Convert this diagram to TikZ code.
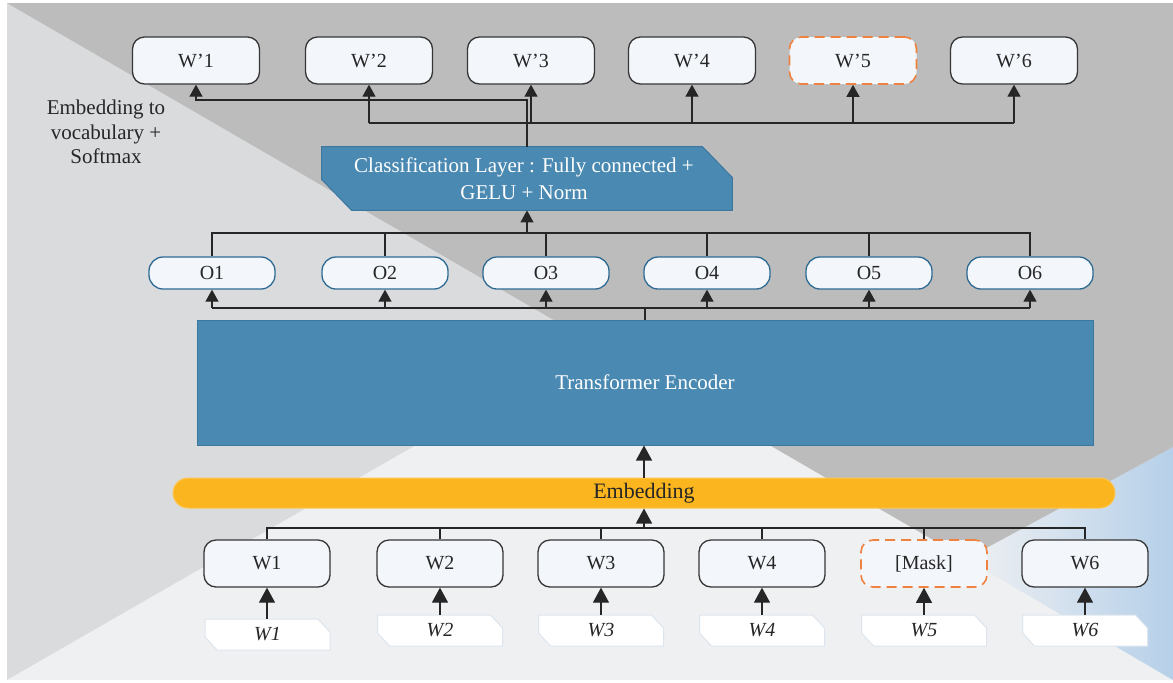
\documentclass[tikz,border=0pt]{standalone}
\usepackage{xcolor}
\usepackage{fontspec}
\setmainfont{Liberation Serif}
\usepackage{tikz}
\usetikzlibrary{positioning, arrows.meta, calc}
\definecolor{framegray}{HTML}{DADBDD}
\definecolor{bandgray}{HTML}{BBBCBB}
\definecolor{palegray}{HTML}{EFF0F2}
\definecolor{skyblue}{HTML}{B6D0E9}
\definecolor{boxfill}{HTML}{F3F6FA}
\definecolor{boxline}{HTML}{363636}
\definecolor{encblue}{HTML}{4A89B1}
\definecolor{encline}{HTML}{3C77A0}
\definecolor{oline}{HTML}{2E6B94}
\definecolor{embyellow}{HTML}{FBB51E}
\definecolor{maskorange}{HTML}{EF8240}
\definecolor{tagline}{HTML}{DCE5EE}
\definecolor{inktext}{HTML}{262626}

\tikzset{
    token/.style={draw=boxline, fill=boxfill, line width=0.65pt, rounded corners=6pt,
        minimum width=63.5pt, minimum height=23.5pt, inner sep=0pt, text=inktext,
        font=\fontsize{10}{12}\selectfont},
    masked/.style={token, draw=maskorange, line width=0.8pt, dash pattern=on 5pt off 3pt},
    outbox/.style={token, draw=oline, minimum width=63pt, minimum height=16pt, rounded corners=7pt},
    tagtext/.style={inner sep=0pt, minimum width=62.5pt, minimum height=15.5pt, text=inktext,
        font=\fontsize{10}{12}\selectfont\itshape},
    conn/.style={draw=inktext, line width=0.65pt},
    flow/.style={conn, -{Triangle[width=6.5pt,length=6pt]}},
    bigflow/.style={conn, -{Triangle[width=8pt,length=7.5pt]}},
}

\begin{document}
\begin{tikzpicture}[x=0.5pt, y=-0.5pt]
    \useasboundingbox (0,0) rectangle (1173,682);
    \fill[white] (0,0) rectangle (1173,682);
    \fill[framegray] (7,3) rectangle (1173,680);
    \fill[palegray] (7,680) -- (700,282) -- (1173,282) -- (1173,680) -- cycle;
    \shade[left color=palegray, right color=skyblue] (1173,447) -- (966,559) -- (1173,680) -- cycle;
    \fill[bandgray] (7,3) -- (1173,3) -- (1173,447) -- (966,559) -- cycle;

    \node[align=center, text=inktext, font=\fontsize{10.5}{12.3}\selectfont] (note) at (106,132)
        {Embedding to\\vocabulary +\\Softmax};

    \foreach \x/\s [count=\i] in {196/token, 369/token, 531/token, 692/token, 853/masked, 1014/token}
        \node[\s] (wp\i) at (\x,60.5) {W’\i};
    \coordinate (topbus) at (0,100);
    \coordinate (midbus) at (0,123);

    \node[minimum width=205pt, minimum height=31.5pt, inner sep=0pt] (cls) at (527,178.5) {};
    \fill[encblue, draw=encline, line width=0.5pt] (cls.north west) -- ([xshift=-15pt]cls.north east)
        -- ([yshift=-15.5pt]cls.north east) -- (cls.south east) -- ([xshift=15pt]cls.south west)
        -- ([yshift=15.5pt]cls.south west) -- cycle;
    \node[text=white, align=center, font=\fontsize{10.5}{13.5}\selectfont] at ([xshift=-1.5pt]cls.center)
        {Classification Layer : Fully connected +\\GELU + Norm};

    \foreach \x [count=\i] in {212,385,546,707,869,1030}
        \node[outbox] (o\i) at (\x,273) {O\i};
    \coordinate (obustop) at (0,233);
    \coordinate (obusbot) at (0,308);

    \node[fill=encblue, draw=encline, line width=0.5pt, minimum width=448pt, minimum height=62.5pt,
          text=white, font=\fontsize{10.5}{12}\selectfont] (enc) at (645,382.5) {Transformer Encoder};
    \node[fill=embyellow, draw=embyellow!75!white, line width=0.5pt, rounded corners=7.5pt,
          minimum width=471pt, minimum height=15pt, inner sep=0pt, text=inktext,
          font=\fontsize{11}{12}\selectfont] (emb) at (644,493) {Embedding};

    \foreach \x/\s/\t [count=\i] in {267/token/W1, 440/token/W2, 601/token/W3, 762/token/W4, 924/masked/{[Mask]}, 1085/token/W6}
        \node[\s, minimum width=63pt] (w\i) at (\x,563.5) {\t};
    \coordinate (wbus) at (0,528);

    \foreach \x/\y [count=\i] in {267.5/634.5, 440/630.5, 601/630.5, 762/630.5, 924/630.5, 1085/630.5} {
        \fill[white, draw=tagline, line width=0.5pt] (\x,\y) ++(-31.25pt,7.75pt) -- ++(56.5pt,0)
            -- ++(6pt,-6.5pt) -- ++(0,-9pt) -- ++(-56.5pt,0) -- ++(-6pt,6.5pt) -- cycle;
        \node[tagtext] (tag\i) at (\x,\y) {W\i};
    }

    \draw[flow] (cls.north) -- (cls.north |- topbus) -| (wp1.south);
    \draw[flow] (wp2.south |- midbus) -- (wp2.south);
    \draw[conn] (wp2.south |- midbus) -- (wp6.south |- midbus);
    \foreach \i in {3,...,6}
        \draw[flow] (wp\i.south |- midbus) -- (wp\i.south);

    \draw[flow] (cls.south |- obustop) -- (cls.south);
    \draw[conn] (o1.north) |- (o6.north |- obustop) -- (o6.north);
    \foreach \i in {2,...,5}
        \draw[conn] (o\i.north) -- (o\i.north |- obustop);
    \draw[conn] (enc.north) -- (enc.north |- obusbot);
    \draw[conn] (o1.south |- obusbot) -- (o6.south |- obusbot);
    \foreach \i in {1,...,6}
        \draw[flow] (o\i.south |- obusbot) -- (o\i.south);

    \draw[bigflow] (emb.north) -- (emb.north |- enc.south);
    \draw[bigflow] (emb.south |- wbus) -- (emb.south);
    \draw[conn] (w1.north) |- (w6.north |- wbus) -- (w6.north);
    \foreach \i in {2,...,5}
        \draw[conn] (w\i.north) -- (w\i.north |- wbus);
    \foreach \i in {1,...,6}
        \draw[bigflow] (w\i.south |- tag\i.north) -- (w\i.south);
\end{tikzpicture}
\end{document}
